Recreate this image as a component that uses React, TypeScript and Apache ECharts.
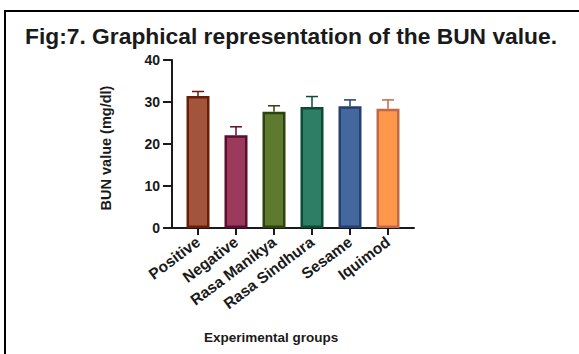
import React, { useEffect, useRef } from "react";
import * as echarts from "echarts";

const categories = ["Positive", "Negative", "Rasa Manikya", "Rasa Sindhura", "Sesame", "Iquimod"];
const means = [31.4, 22.1, 27.7, 28.8, 29.0, 28.4];
const errors = [1.1, 2.0, 1.4, 2.5, 1.5, 2.1];
const fillColors = ["#A3553B", "#9C3A5E", "#5E7A2E", "#2E7E66", "#44679F", "#FF984A"];
const borderColors = ["#6A1C08", "#5A0E30", "#2D420E", "#0B4A34", "#25406A", "#C26848"];
const yTicks = [0, 10, 20, 30, 40];

const FONT = "'Liberation Sans', Arial, sans-serif";

export default function App() {
  const ref = useRef<HTMLDivElement>(null);
  useEffect(() => {
    if (!ref.current) return;
    const chart = echarts.init(ref.current, undefined, { renderer: "svg" });
    const top = 60;
    const height = 168;
    chart.setOption({
      animation: false,
      backgroundColor: "#ffffff",
      title: {
        text: "Fig:7. Graphical representation of the BUN value.",
        left: 20,
        top: 19,
        textStyle: { fontFamily: FONT, fontWeight: "bold", fontSize: 22.8, color: "#1a1a1a" },
      },
      graphic: [
        {
          type: "polyline",
          shape: { points: [[5, 354], [5, 11], [579, 11]] },
          style: { stroke: "#000", lineWidth: 2, fill: "none" },
          silent: true,
        },
        {
          type: "text",
          left: 204,
          top: 330,
          style: { text: "Experimental groups", font: `bold 13.5px ${FONT}`, fill: "#1a1a1a" },
        },
        {
          type: "text",
          x: 106,
          y: 148,
          rotation: Math.PI / 2,
          style: {
            text: "BUN value (mg/dl)",
            font: `bold 14.5px ${FONT}`,
            fill: "#1a1a1a",
            align: "center",
            verticalAlign: "middle",
          },
        },
      ],
      grid: [
        { left: 179, top, width: 228, height },
        { left: 172, top, width: 242, height },
      ],
      xAxis: [
        {
          type: "category",
          gridIndex: 0,
          data: categories,
          axisLine: { show: false },
          axisTick: { show: true, alignWithLabel: true, length: 7, lineStyle: { color: "#1a1a1a", width: 2 } },
          axisLabel: {
            rotate: 37,
            interval: 0,
            margin: 12,
            fontFamily: FONT,
            fontWeight: "bold",
            fontSize: 15.5,
            color: "#1a1a1a",
          },
        },
        {
          type: "category",
          gridIndex: 1,
          data: [""],
          axisLine: { show: true, lineStyle: { color: "#1a1a1a", width: 2 } },
          axisTick: { show: false },
          axisLabel: { show: false },
        },
      ],
      yAxis: [
        {
          type: "value",
          gridIndex: 0,
          min: yTicks[0],
          max: yTicks[yTicks.length - 1],
          interval: 10,
          show: false,
        },
        {
          type: "value",
          gridIndex: 1,
          min: yTicks[0],
          max: yTicks[yTicks.length - 1],
          interval: 10,
          axisLine: { show: true, lineStyle: { color: "#1a1a1a", width: 2 } },
          axisTick: { show: true, length: 9, lineStyle: { color: "#1a1a1a", width: 2 } },
          axisLabel: { fontFamily: FONT, fontWeight: "bold", fontSize: 14, color: "#1a1a1a", margin: 12 },
          splitLine: { show: false },
        },
      ],
      series: [
        {
          type: "bar",
          xAxisIndex: 0,
          yAxisIndex: 0,
          barWidth: 23,
          data: means.map((v, i) => ({
            value: v,
            itemStyle: { color: fillColors[i], borderColor: borderColors[i], borderWidth: 2.5 },
          })),
          z: 2,
        },
        {
          type: "custom",
          xAxisIndex: 0,
          yAxisIndex: 0,
          data: means.map((v, i) => [i, v, v + errors[i]]),
          z: 1,
          renderItem: (params: any, api: any) => {
            const i = api.value(0);
            const base = api.coord([i, api.value(1)]);
            const tip = api.coord([i, api.value(2)]);
            const color = borderColors[params.dataIndex];
            const half = 6;
            return {
              type: "group",
              children: [
                {
                  type: "line",
                  shape: { x1: base[0], y1: base[1], x2: tip[0], y2: tip[1] },
                  style: { stroke: color, lineWidth: 1.5 },
                },
                {
                  type: "line",
                  shape: { x1: tip[0] - half, y1: tip[1], x2: tip[0] + half, y2: tip[1] },
                  style: { stroke: color, lineWidth: 1.5 },
                },
              ],
            };
          },
        },
      ],
    });
    return () => chart.dispose();
  }, []);
  return (
    <div
      ref={ref}
      style={{ position: "absolute", left: 0, top: 0, width: 579, height: 354, background: "#fff" }}
    />
  );
}
